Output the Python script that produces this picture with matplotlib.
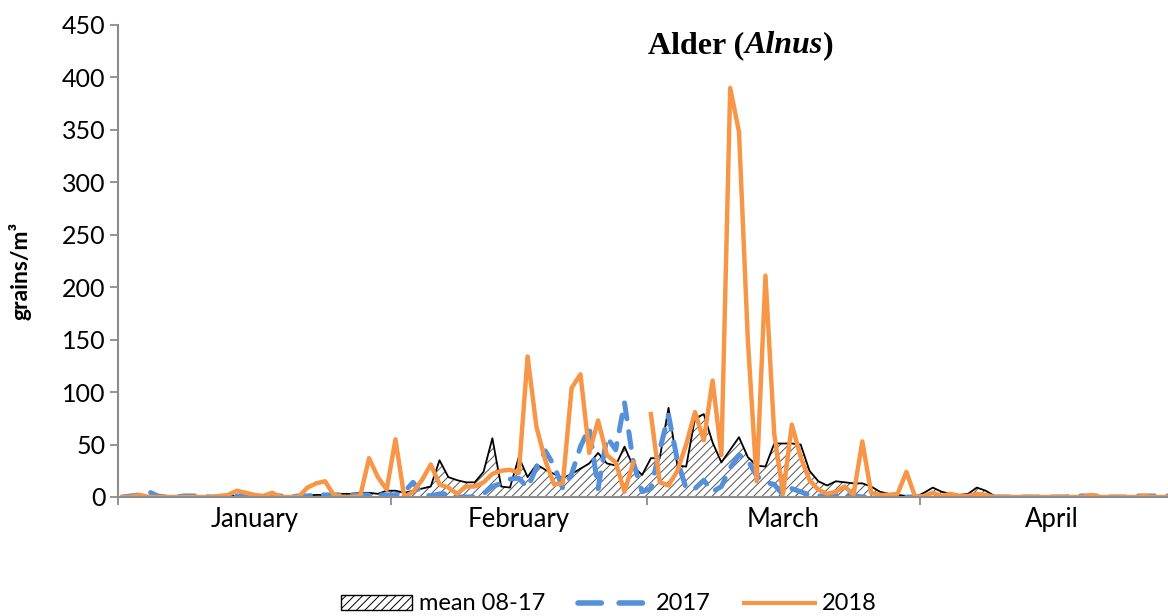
import matplotlib.pyplot as plt
import numpy as np
from matplotlib.patches import Patch
from matplotlib.lines import Line2D

nan = np.nan

# daily pollen counts, 1 Jan - 30 Apr (Feb has 29 slots, leap day)
months = ['January', 'February', 'March', 'April']
days_in_month = [31, 29, 31, 30]

mean_0817 = ([0, 0.5, 1, 0.5, 0.5, 0.5, 0.5, 0.5, 0.5, 0.5, 0.5, 1, 1, 1, 1, 1, 1, 1, 1, 1,
              1.5, 1.5, 2, 2, 3, 3, 3, 4, 4, 3, 6]
             + [6, 4, 6, 8, 10, 35, 19, 16, 14, 14, 24, 56, 10, 9, 38, 19, 31, 26, 22, 18,
                22, 27, 32, 42, 32, 30, 48, 29, 21]
             + [37, 37, 85, 30, 29, 75, 79, 52, 33, 45, 57, 38, 30, 29, 51, 51, 51, 50, 25, 15,
                11, 15, 14, 13, 13, 10, 5, 3, 2, 1, 0]
             + [4, 9, 5, 3, 2, 3, 9, 6, 1, 0.5, 0.5, 0.5, 0.5, 0.5, 0.5, 0.3, 0.3, 0.3, 0.3, 0.3,
                0.3, 0.3, 0.3, 0.3, 0.3, 0.3, 0.3, 0.3, 0.3, 0.3])

y2017 = ([0, 1, 2, 5, 1, 0, 0, 1, 1, 1, 0, 0, 0, 1, 1, 1, 1, 1, 1, 0,
          1, 1, 2, 2, 2, 2, 2, 2, 2, 2, 2]
         + [2, 5, 14, 3, 1, 3, 3, 0, 0, 0, 3, 10, 13, 17, 18, 9, 28, 44, 30, 8,
            22, 48, 66, 8, 57, 45, 90, 33, 5]
         + [8, 45, 78, 35, 8, 8, 16, 5, 10, 28, 40, 35, 20, 14, 12, 2, 8, 5, 2, 1,
            1, 2, 2, 1, 0, 0, 0, 0, 0, 0, 0]
         + [0, 0, 0, 0, 0, 0, 0, 0, 0, 0, 0, 0, 0, 0, 0, 0, 0, 1, 1, 1,
            1, 0, 0, 0, 1, 1, 1, 1, 1, 1])

y2018 = ([0, 0, 2, 0, 0, 0, 0, 0, 0, 0, 0, 1, 2, 6, 4, 2, 1, 4, 0, 0,
          0, 9, 13, 15, 2, 0, 0, 1, 37, 19, 7]
         + [55, 0, 5, 16, 31, 12, 9, 3, 10, 10, 14, 22, 25, 26, 23, 134, 67, 35, 12, 13,
            104, 117, 42, 73, 40, 33, 5, 33, nan]
         + [79, 14, 11, 25, 50, 81, 54, 111, 40, 390, 348, 150, 15, 211, 60, 3, 69, 38, 16, 7,
            3, 5, 10, 2, 53, 4, 2, 2, 3, 24, 0]
         + [1, 4, 1, 3, 1, 1, 3, 2, 0, 0, 0, 0, 0, 0, 0, 0, 0, 0, 0, 2,
            0, 0, 0, 0, 0, 1, 0, 0, 0, 0])

orange = '#F79646'
blue = '#5590DA'
grey = '#8C8C8C'

plt.rcParams['font.family'] = ['Lato', 'DejaVu Sans']
plt.rcParams['hatch.linewidth'] = 0.7
plt.rcParams['hatch.color'] = '#555555'

fig = plt.figure(figsize=(11.68, 6.16), dpi=100)
ax = fig.add_axes([118 / 1168, 119 / 616, 1050 / 1168, 472 / 616])

x = np.arange(len(mean_0817)) + 0.5

ax.fill_between(x, mean_0817, color='white', edgecolor='#555555', hatch='////', linewidth=0)
ax.plot(x, mean_0817, color='black', lw=1.3)
ax.plot(x, y2017, color=blue, lw=3.6, dashes=(3.2, 2.6), dash_capstyle='round')
ax.plot(x, y2018, color=orange, lw=3.2, solid_joinstyle='round')

ax.set_xlim(0, 119.2)
ax.set_ylim(0, 450)
ax.set_yticks(np.arange(0, 451, 50))

bounds = np.concatenate([[0], np.cumsum(days_in_month)])
ax.set_xticks(bounds[:-1])
ax.set_xticklabels([])
centers = bounds[:-1] + np.array(days_in_month) / 2
ax.set_xticks(centers, minor=True)
ax.set_xticklabels(months, minor=True)
ax.tick_params(axis='x', which='minor', length=0, pad=7, labelsize=18.5)
ax.tick_params(axis='x', which='major', length=6, color=grey, width=1.3)
ax.tick_params(axis='y', length=6, color=grey, width=1.3, pad=3, labelsize=18)

for s in ['top', 'right']:
    ax.spines[s].set_visible(False)
for s in ['left', 'bottom']:
    ax.spines[s].set_color(grey)
    ax.spines[s].set_linewidth(1.5)

ax.set_ylabel('grains/m³', fontsize=16.5, fontweight='bold')
ax.yaxis.set_label_coords(-0.082, 0.48)

# title with italic genus name
t1 = fig.text(648 / 1168, 1 - 53 / 616, 'Alder (', family='Liberation Serif',
              fontweight='bold', fontsize=23)
t2 = ax.annotate('Alnus', xy=(1, 0), xycoords=t1, va='bottom', ha='left',
                 family='Liberation Serif', fontweight='bold', fontstyle='italic', fontsize=23)
ax.annotate(')', xy=(1, 0), xycoords=t2, va='bottom', ha='left',
            family='Liberation Serif', fontweight='bold', fontsize=23)

handles = [Patch(facecolor='white', edgecolor='black', hatch='////', lw=1),
           Line2D([], [], color=blue, lw=4, dashes=(4.2, 3.2), dash_capstyle='round'),
           Line2D([], [], color=orange, lw=3)]
fig.legend(handles, ['mean 08-17', '2017', '2018'], loc='center', ncol=3,
           bbox_to_anchor=(609 / 1168, 12 / 616), frameon=False, fontsize=17,
           handlelength=3.0, handleheight=0.6, columnspacing=1.4, handletextpad=0.3)

fig.savefig('out.png', dpi=100)
